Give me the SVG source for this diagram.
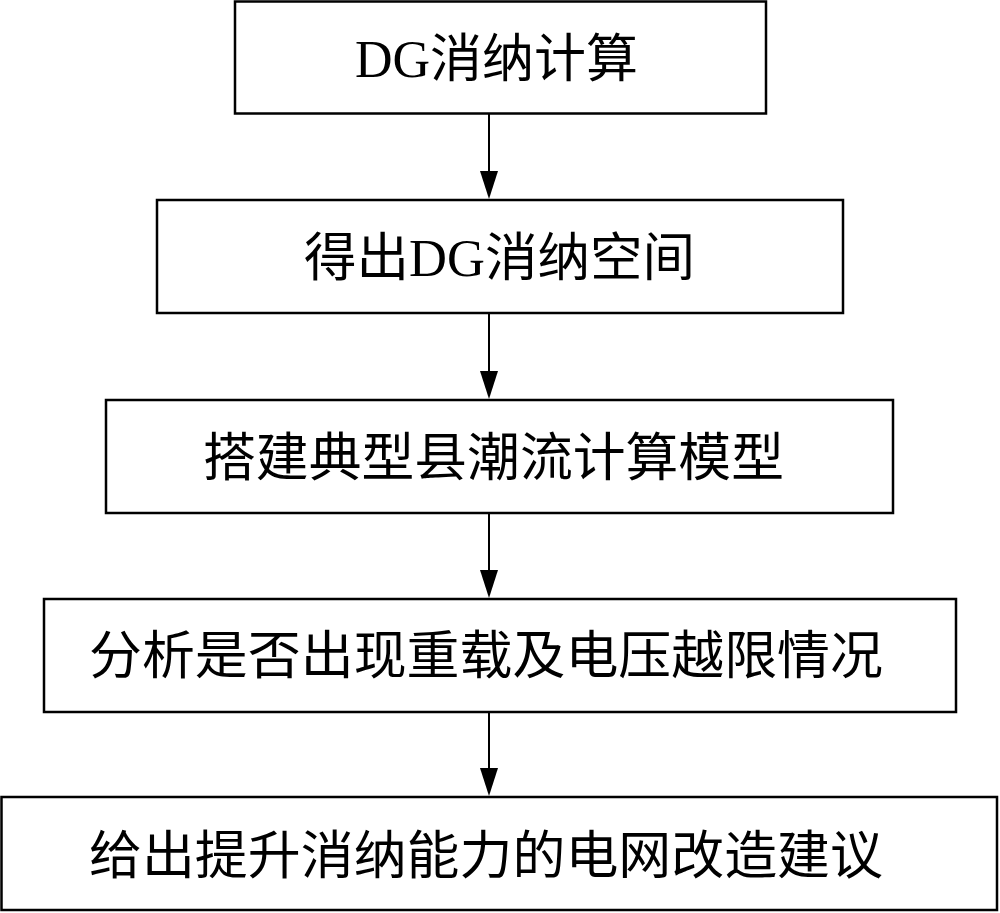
<svg xmlns="http://www.w3.org/2000/svg" width="1000" height="913" viewBox="0 0 1000 913">
<style>
.box{fill:#fff;stroke:#000;stroke-width:2.5}
.lbl{font-family:"Liberation Serif","Noto Sans CJK SC",serif;font-size:52px;fill:#000}
.con{stroke:#000;stroke-width:2;fill:none;marker-end:url(#ah)}
</style>
<defs>
<marker id="ah" markerUnits="userSpaceOnUse" markerWidth="28" markerHeight="18" refX="24" refY="9" orient="auto" viewBox="0 0 28 18">
<path d="M0,0 L28,9 L0,18 Z" fill="#000"/>
</marker>
</defs>
<rect width="1000" height="913" fill="#fff"/>
<g id="n1"><rect class="box" x="235" y="1.5" width="531" height="112"/><text class="lbl" x="355" y="77" textLength="283" lengthAdjust="spacingAndGlyphs">DG消纳计算</text></g>
<g id="n2"><rect class="box" x="157" y="200" width="686" height="113"/><text class="lbl" x="304" y="276" textLength="391" lengthAdjust="spacingAndGlyphs">得出DG消纳空间</text></g>
<g id="n3"><rect class="box" x="106" y="400" width="787" height="113"/><text class="lbl" x="203" y="476" textLength="581" lengthAdjust="spacingAndGlyphs">搭建典型县潮流计算模型</text></g>
<g id="n4"><rect class="box" x="44" y="599" width="912" height="113"/><text class="lbl" x="89" y="674" textLength="794" lengthAdjust="spacingAndGlyphs">分析是否出现重载及电压越限情况</text></g>
<g id="n5"><rect class="box" x="1.5" y="797" width="995.5" height="113"/><text class="lbl" x="89" y="874" textLength="794" lengthAdjust="spacingAndGlyphs">给出提升消纳能力的电网改造建议</text></g>
<g id="connectors">
<line class="con" x1="489" y1="114" x2="489" y2="195"/>
<line class="con" x1="489" y1="314" x2="489" y2="395"/>
<line class="con" x1="489" y1="514" x2="489" y2="594"/>
<line class="con" x1="489" y1="713" x2="489" y2="792"/>
</g>
</svg>
